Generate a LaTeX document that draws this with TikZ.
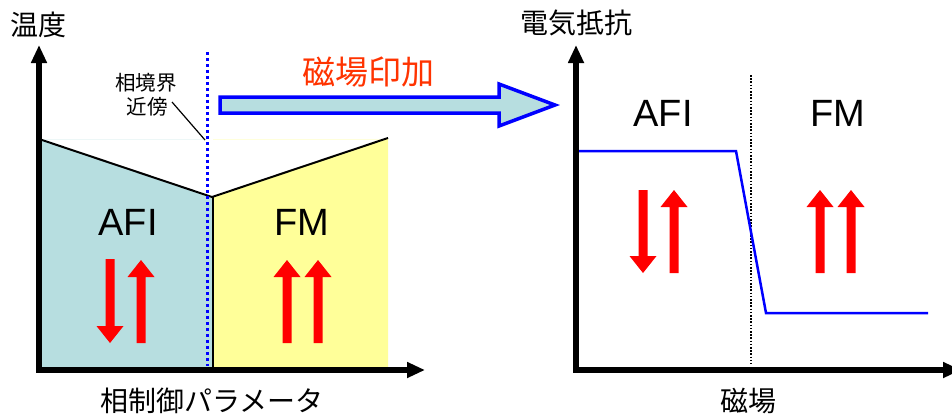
\documentclass[tikz,border=0pt]{standalone}
\usepackage{fontspec}
\setmainfont{Liberation Sans}
\newfontfamily\jp{Noto Sans CJK JP}
\usetikzlibrary{arrows.meta}
\definecolor{afiblue}{HTML}{B7DEE0}
\definecolor{fmyellow}{HTML}{FFFF99}
\definecolor{fieldred}{HTML}{FF3300}
\newcommand\fatup[3]{\fill[red] (#1-4.5,#3) -- (#1-4.5,#2+17) -- (#1-13.5,#2+17) -- (#1,#2) -- (#1+13.5,#2+17) -- (#1+4.5,#2+17) -- (#1+4.5,#3) -- cycle;}
\newcommand\fatdown[3]{\fill[red] (#1-4.5,#2) -- (#1-4.5,#3-17) -- (#1-13.5,#3-17) -- (#1,#3) -- (#1+13.5,#3-17) -- (#1+4.5,#3-17) -- (#1+4.5,#2) -- cycle;}
\tikzset{
  axis/.style={line width=6pt, {Triangle[length=18pt,width=15pt]}-{Triangle[length=18pt,width=15pt]}},
  axlabel/.style={font=\jp\fontsize{28}{32}\selectfont, inner sep=0pt},
  smalllabel/.style={font=\jp\fontsize{20.5}{24}\selectfont, inner sep=0pt},
  phase/.style={font=\fontsize{38}{40}\selectfont, inner sep=0pt},
  boundary/.style={line width=2pt, black},
}
\begin{document}
\begin{tikzpicture}[x=1pt,y=-1pt]
\useasboundingbox (0,0) rectangle (952,416);
% ---------- left diagram ----------
\draw[afiblue!25, line width=0.8pt] (42,139) -- (207,139);
\draw[fmyellow!35, line width=0.8pt] (213,139) -- (388,139);
\fill[afiblue] (39,139) -- (212,197) -- (212,370) -- (39,370) -- cycle;
\fill[fmyellow] (212,197) -- (388,138) -- (388,370) -- (212,370) -- cycle;
\draw[boundary] (39,139) -- (212,197) -- (388,138);
\draw[boundary] (213,197) -- (213,370);
\draw[blue, line width=3pt, dash pattern=on 3pt off 3pt] (207,52) -- (207,366);
\coordinate (ltop) at (39,45);
\coordinate (lorig) at (39,370);
\coordinate (lright) at (425,370);
\draw[axis] (ltop) -- (lorig) -- (lright);
\node[axlabel] (temp) at (38,25) {温度};
\node[axlabel] (param) at (212,401) {相制御パラメータ};
\node[smalllabel] (near1) at (146,83) {相境界};
\node[smalllabel] (near2) at (147,107) {近傍};
\coordinate (leadstart) at (172,102);
\coordinate (leadend) at (205,140);
\draw[line width=1.2pt] (leadstart) -- (leadend);
\node[phase] (afiL) at (128,222) {AFI};
\node[phase] (fmL) at (302,222) {FM};
\fatdown{110}{259}{343}
\fatup{141}{260}{343}
\fatup{287}{260}{343}
\fatup{318}{260}{343}
% ---------- big arrow ----------
\draw[blue, line width=3.5pt, fill=afiblue, line join=miter] (220,97) -- (499,97) -- (499,84) -- (555,105) -- (499,126) -- (499,113) -- (220,113) -- cycle;
\node[font=\jp\fontsize{33}{36}\selectfont, text=fieldred, inner sep=0pt] (apply) at (368,72) {磁場印加};
% ---------- right diagram ----------
\draw[black, line width=1.6pt, dash pattern=on 1.6pt off 1.6pt] (751,75) -- (751,364);
\draw[blue, line width=2.5pt] (579,151) -- (736,151) -- (766,313) -- (928,313);
\coordinate (rtop) at (576,45);
\coordinate (rorig) at (576,370);
\coordinate (rright) at (961,370);
\draw[axis] (rtop) -- (rorig) -- (rright);
\node[axlabel] (res) at (576,23) {電気抵抗};
\node[axlabel] (field) at (748,401) {磁場};
\node[phase] (afiR) at (663,113) {AFI};
\node[phase] (fmR) at (838,113) {FM};
\fatdown{643}{190}{273}
\fatup{674}{190}{273}
\fatup{820}{190}{273}
\fatup{851}{190}{273}
\end{tikzpicture}
\end{document}
